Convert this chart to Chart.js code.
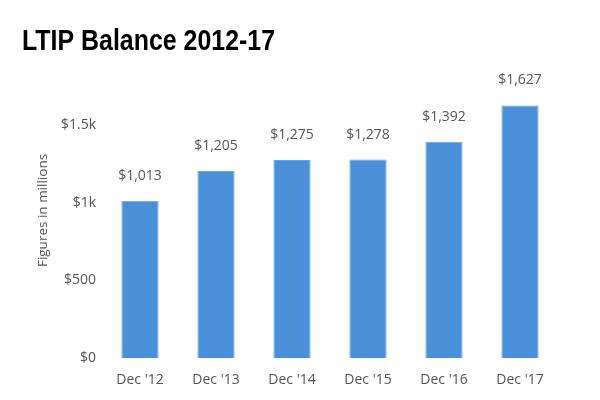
<!DOCTYPE html>
<html>
<head>
<meta charset="utf-8">
<script src="https://cdn.jsdelivr.net/npm/chart.js@4"></script>
<style>
	html, body { margin: 0; padding: 0; background: #ffffff; }
	#wrap { width: 600px; height: 400px; }
</style>
</head>
<body>
<div id="wrap"><canvas id="ltipChart" width="600" height="400"></canvas></div>
<script>
// Data
const categories = ["Dec '12", "Dec '13", "Dec '14", "Dec '15", "Dec '16", "Dec '17"];
const balances = [1013, 1205, 1275, 1278, 1392, 1627];
const balanceLabels = ['$1,013', '$1,205', '$1,275', '$1,278', '$1,392', '$1,627'];
const yTicks = [0, 500, 1000, 1500];
const yTickLabels = ['$0', '$500', '$1k', '$1.5k'];
const chartTitle = 'LTIP Balance 2012-17';

const textGrey = '#555555';
const barBlue = '#4a90d9';

// Condensed bold title (no narrow font installed, so squeeze it horizontally)
const condensedTitle = {
	id: 'condensedTitle',
	afterDraw(chart) {
		const ctx = chart.ctx;
		ctx.save();
		ctx.font = 'bold 30px "Liberation Sans", Arial, sans-serif';
		ctx.fillStyle = '#000000';
		ctx.textAlign = 'left';
		ctx.textBaseline = 'alphabetic';
		const w = ctx.measureText(chartTitle).width;
		ctx.translate(22, 50);
		ctx.scale(253 / w, 1);
		ctx.fillText(chartTitle, 0, 0);
		ctx.restore();
	}
};

// Value labels drawn above each bar
const valueLabels = {
	id: 'valueLabels',
	afterDatasetsDraw(chart) {
		const ctx = chart.ctx;
		const meta = chart.getDatasetMeta(0);
		ctx.save();
		ctx.font = '14px "Open Sans"';
		ctx.fillStyle = textGrey;
		ctx.textAlign = 'center';
		ctx.textBaseline = 'middle';
		meta.data.forEach(function(bar, i) {
			ctx.fillText(balanceLabels[i], bar.x, bar.y - 25);
		});
		ctx.restore();
	}
};

const ctx = document.getElementById('ltipChart').getContext('2d');
new Chart(ctx, {
	type: 'bar',
	data: {
		labels: categories,
		datasets: [{
			data: balances,
			backgroundColor: barBlue,
			borderColor: '#6aa6e6',
			borderWidth: 1,
			barPercentage: 0.7,
			categoryPercentage: 0.7
		}]
	},
	options: {
		responsive: false,
		animation: false,
		layout: {
			padding: { left: 22, right: 42, top: 63, bottom: 0 }
		},
		plugins: {
			legend: { display: false },
			tooltip: { enabled: false },
			title: { display: false }
		},
		scales: {
			x: {
				grid: { display: false, drawTicks: false },
				border: { display: false },
				ticks: {
					color: textGrey,
					font: { family: '"Open Sans"', size: 14 },
					padding: 14
				},
				afterFit(scale) { scale.height = 42; }
			},
			y: {
				min: 0,
				max: 1900,
				grid: { display: false, drawTicks: false },
				border: { display: false },
				afterBuildTicks(scale) {
					scale.ticks = yTicks.map(v => ({ value: v }));
				},
				ticks: {
					color: textGrey,
					font: { family: '"Open Sans"', size: 14 },
					padding: 6,
					callback: function(value) {
						const i = yTicks.indexOf(value);
						return i >= 0 ? yTickLabels[i] : '';
					}
				},
				title: {
					display: true,
					text: 'Figures in millions',
					color: textGrey,
					font: { family: '"Open Sans"', size: 13.5 },
					padding: { top: 13, bottom: 0 }
				},
				afterFit(scale) { scale.width = 80; }
			}
		}
	},
	plugins: [valueLabels, condensedTitle]
});
</script>
</body>
</html>
